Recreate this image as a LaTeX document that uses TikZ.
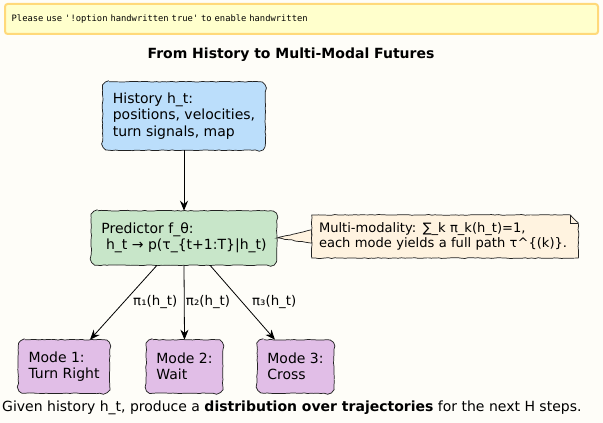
\documentclass[tikz,border=0pt]{standalone}
\usepackage{fontspec}
\setmainfont{DejaVu Sans}
\newfontfamily\warnfont{DejaVu Sans Mono}
\usetikzlibrary{arrows.meta,positioning,backgrounds,decorations.pathmorphing}

\definecolor{bgcol}{HTML}{FEFDF8}
\definecolor{warnfill}{HTML}{FFFFCC}
\definecolor{warnline}{HTML}{FFD97A}
\definecolor{histfill}{HTML}{BBDEFB}
\definecolor{predfill}{HTML}{C8E6C9}
\definecolor{notefill}{HTML}{FFF3E0}
\definecolor{modefill}{HTML}{E1BEE7}
\definecolor{linecol}{HTML}{222222}

% wobbly rounded outline round a named node
\newcommand{\sketchbox}[2]{%
  \filldraw[fill=#2, outline] ([xshift=5pt]#1.north west) -- ([xshift=-5pt]#1.north east)
    arc[start angle=90, end angle=0, radius=5pt] -- ([yshift=5pt]#1.south east)
    arc[start angle=0, end angle=-90, radius=5pt] -- ([xshift=5pt]#1.south west)
    arc[start angle=-90, end angle=-180, radius=5pt] -- ([yshift=-5pt]#1.north west)
    arc[start angle=180, end angle=90, radius=5pt] -- cycle;}

\begin{document}
\pgfmathsetseed{11}
\begin{tikzpicture}[x=0.75pt,y=-0.75pt,>={Stealth[length=7.5pt,width=6pt]},
    every node/.style={font=\fontsize{10.5}{12.2}\selectfont},
    outline/.style={draw=linecol, line width=0.55pt, decorate, decoration={random steps,segment length=2.5pt,amplitude=0.3pt}},
    box/.style={align=left,inner xsep=7.5pt},
    modebox/.style={box,minimum height=39.75pt},
    lbl/.style={font=\fontsize{10}{12}\selectfont,inner sep=1pt},
    link/.style={->, black, line width=0.6pt},
  ]
	\useasboundingbox (0,0) rectangle (603,423);

	% create the nodes
	\node (warn)[draw=warnline, line width=1.5pt, fill=warnfill, rounded corners=2pt, minimum height=22.5pt, inner xsep=5pt, text width=434.75pt, align=left, font=\warnfont\fontsize{6.6}{8}\selectfont] at (301.5,19) {Please use \textquotesingle!option handwritten true\textquotesingle{} to enable handwritten};
	\node (title)[font=\bfseries\fontsize{10.5}{12}\selectfont] at (291,55) {From History to Multi-Modal Futures};
	\node (hist)[box, minimum height=51pt] at (184,116) {History h\_t:\\positions, velocities,\\turn signals, map};
	\node (pred)[box, minimum height=40.5pt] at (184,238) {Predictor f\_θ:\\\hspace*{3.5pt}h\_t → p(τ\_\{t+1:T\}|h\_t)};
	\node (note)[minimum height=32pt, inner xsep=5.25pt, text width=189pt, align=left, font=\fontsize{9.8}{11.8}\selectfont] at (445,236.5) {Multi-modality: ∑\_k π\_k(h\_t)=1,\\each mode yields a full path τ\textasciicircum\{(k)\}.};
	\node (mode1)[modebox] at (64,366.5) {Mode 1:\\Turn Right};
	\node (mode2)[modebox] at (184.5,366.5) {Mode 2:\\Wait};
	\node (mode3)[modebox] at (295.5,366.5) {Mode 3:\\Cross};
	\node (caption)[anchor=west] at (-2.5,408) {Given history h\_t, produce a \textbf{distribution over trajectories} for the next H steps.};

	% outlines behind the texts
	\begin{scope}[on background layer]
		\fill[bgcol] (0,0) rectangle (603,423);
		\sketchbox{hist}{histfill}
		\sketchbox{pred}{predfill}
		\sketchbox{mode1}{modefill}
		\sketchbox{mode2}{modefill}
		\sketchbox{mode3}{modefill}
		% note with folded corner
		\filldraw[fill=notefill, outline] (pred.east) -- ([yshift=5pt]note.west) -- ([yshift=-5pt]note.west) -- cycle;
		\filldraw[fill=notefill, outline] (note.south west) -- (note.north west) -- ([xshift=-6pt]note.north east) -- ([yshift=-6pt]note.north east) -- (note.south east) -- cycle;
		\draw[linecol, line width=0.5pt] ([xshift=-6pt]note.north east) -- ([xshift=-6pt,yshift=-6pt]note.north east) -- ([yshift=-6pt]note.north east);
	\end{scope}

	% connect the nodes
	\draw[link] (hist) -- (pred);
	\draw[link] ([xshift=-20.25pt]pred.south) -- node[lbl, right, xshift=6pt] {π₁(h\_t)} ([xshift=19.5pt]mode1.north);
	\draw[link] (pred.south) -- node[lbl, right] {π₂(h\_t)} (mode2.north);
	\draw[link] ([xshift=19.5pt]pred.south) -- node[lbl, right, xshift=6pt] {π₃(h\_t)} ([xshift=-15.4pt]mode3.north);

\end{tikzpicture}
\end{document}
